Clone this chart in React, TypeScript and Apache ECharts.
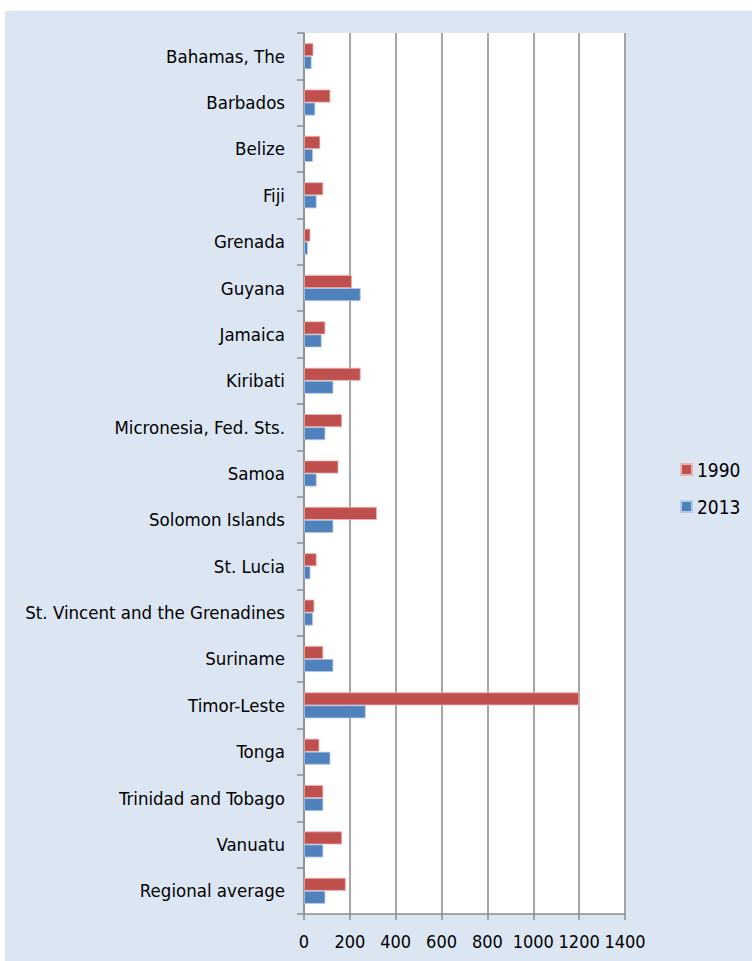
import React, { useEffect, useRef } from "react";
import * as echarts from "echarts";

const categories = [
  "Bahamas, The",
  "Barbados",
  "Belize",
  "Fiji",
  "Grenada",
  "Guyana",
  "Jamaica",
  "Kiribati",
  "Micronesia, Fed. Sts.",
  "Samoa",
  "Solomon Islands",
  "St. Lucia",
  "St. Vincent and the Grenadines",
  "Suriname",
  "Timor-Leste",
  "Tonga",
  "Trinidad and Tobago",
  "Vanuatu",
  "Regional average",
];

const values1990 = [41, 115, 71, 84, 28, 209, 93, 247, 166, 150, 318, 55, 45, 84, 1200, 67, 84, 166, 182];
const values2013 = [33, 49, 39, 55, 17, 247, 77, 128, 93, 55, 128, 28, 39, 128, 269, 115, 84, 84, 93];

const xTicks = { min: 0, max: 1400, interval: 200 };

export default function App() {
  const ref = useRef<HTMLDivElement>(null);
  useEffect(() => {
    if (!ref.current) return;
    const chart = echarts.init(ref.current, null, { renderer: "svg" });
    const labelFont = "'Liberation Sans Narrow', 'DejaVu Sans Condensed', Roboto, sans-serif";
    chart.setOption({
      animation: false,
      backgroundColor: "#ffffff",
      graphic: [
        {
          type: "rect",
          z: -10,
          silent: true,
          shape: { x: 5, y: 11, width: 760, height: 960 },
          style: { fill: "#dce6f2" },
        },
        {
          type: "rect",
          z: -9,
          silent: true,
          shape: { x: 304, y: 33, width: 321, height: 881 },
          style: { fill: "#ffffff" },
        },
      ],
      legend: {
        orient: "vertical",
        left: 675,
        top: 455,
        itemWidth: 11,
        itemHeight: 11,
        itemGap: 18,
        icon: "rect",
        textStyle: { fontSize: 19, color: "#000", fontFamily: "'DejaVu Sans Condensed', 'Liberation Sans', sans-serif" },
        data: ["1990", "2013"],
      },
      grid: { left: 304, top: 33, right: 127, bottom: 47, containLabel: false },
      xAxis: {
        type: "value",
        min: xTicks.min,
        max: xTicks.max,
        interval: xTicks.interval,
        axisLine: { show: true, lineStyle: { color: "#8c8c8c", width: 1.5 } },
        axisTick: { show: true, length: 6, lineStyle: { color: "#8c8c8c", width: 1.5 } },
        splitLine: { show: true, lineStyle: { color: "#a6a6a6", width: 2 } },
        axisLabel: {
          margin: 18,
          fontSize: 18,
          color: "#000",
          fontFamily: "'DejaVu Sans Condensed', 'Liberation Sans', sans-serif",
          hideOverlap: false,
          formatter: (v: number) => String(v),
        },
      },
      yAxis: {
        type: "category",
        inverse: true,
        data: categories,
        axisLine: { show: true, lineStyle: { color: "#8c8c8c", width: 1.5 } },
        axisTick: { show: true, length: 7, alignWithLabel: false, lineStyle: { color: "#8c8c8c", width: 1.5 } },
        axisLabel: {
          margin: 19,
          fontSize: 18.5,
          color: "#000",
          fontFamily: labelFont,
          interval: 0,
        },
      },
      series: [
        {
          name: "1990",
          type: "bar",
          data: values1990,
          barWidth: 13,
          barGap: "0%",
          itemStyle: { color: "#c0504d", borderColor: "#e8b4b2", borderWidth: 0.8 },
        },
        {
          name: "2013",
          type: "bar",
          data: values2013,
          barWidth: 13,
          barGap: "0%",
          itemStyle: { color: "#4f81bd", borderColor: "#b5c8e4", borderWidth: 0.8 },
        },
      ],
    });
    return () => chart.dispose();
  }, []);
  return (
    <div
      ref={ref}
      style={{ position: "fixed", left: 0, top: 0, width: 752, height: 961 }}
    />
  );
}
